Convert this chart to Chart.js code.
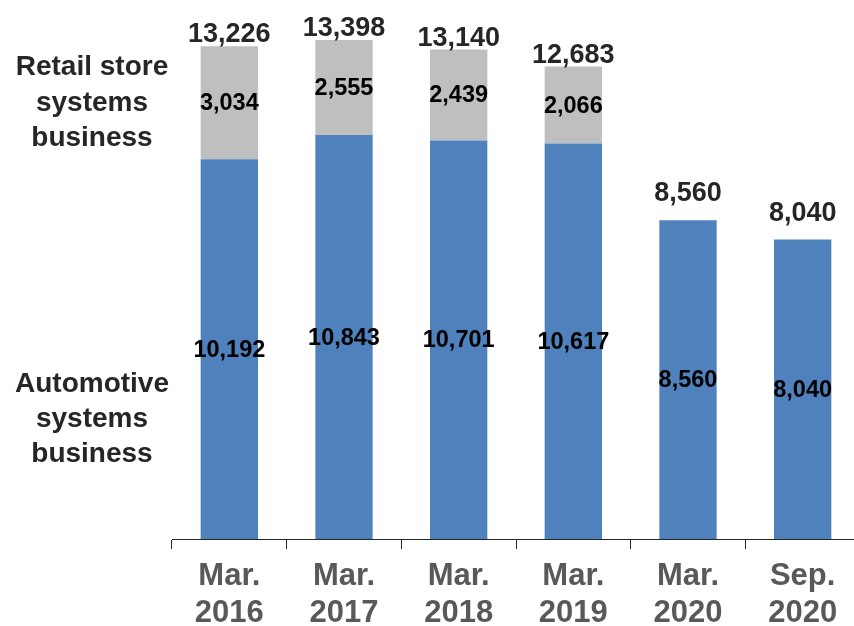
<!DOCTYPE html>
<html><head><meta charset="utf-8">
<style>
html,body{margin:0;padding:0;background:#fff;overflow:hidden;}
#wrap{width:860px;height:626px;}
</style>
<script src="https://cdn.jsdelivr.net/npm/chart.js@4/dist/chart.umd.min.js"></script>
</head><body>
<div id="wrap"><canvas id="c" width="860" height="626"></canvas></div>
<script>
const categories = [["Mar.","2016"],["Mar.","2017"],["Mar.","2018"],["Mar.","2019"],["Mar.","2020"],["Sep.","2020"]];
const automotive = [10192,10843,10701,10617,8560,8040];
const retail = [3034,2555,2439,2066,null,null];
const totals = [13226,13398,13140,12683,8560,8040];
const seriesNames = ["Automotive systems business","Retail store systems business"];
const sideLabelRetail = ["Retail store","systems","business"];
const sideLabelAutomotive = ["Automotive","systems","business"];

const FONT = '"Liberation Sans", Arial, Helvetica, sans-serif';
const fmt = v => v.toLocaleString('en-US');

const labelsPlugin = {
  id: 'labelsPlugin',
  afterDatasetsDraw(chart) {
    const ctx = chart.ctx;
    ctx.save();
    // inner segment values
    ctx.textAlign = 'center';
    ctx.textBaseline = 'middle';
    ctx.fillStyle = '#000000';
    ctx.font = 'bold 23.5px ' + FONT;
    chart.data.datasets.forEach((ds, di) => {
      const meta = chart.getDatasetMeta(di);
      meta.data.forEach((el, i) => {
        const v = ds.data[i];
        if (v === null || v === undefined) return;
        ctx.fillText(fmt(v), el.x, (el.y + el.base) / 2 + 1);
      });
    });
    // totals above bars
    ctx.textBaseline = 'alphabetic';
    ctx.fillStyle = '#262626';
    ctx.font = 'bold 27px ' + FONT;
    const m0 = chart.getDatasetMeta(0), m1 = chart.getDatasetMeta(1);
    totals.forEach((t, i) => {
      const hasRetail = retail[i] !== null && retail[i] !== undefined;
      const topEl = hasRetail ? m1.data[i] : m0.data[i];
      const off = hasRetail ? 4 : 19;
      ctx.fillText(fmt(t), topEl.x, topEl.y - off);
    });
    // side series labels
    ctx.fillStyle = '#262626';
    ctx.font = 'bold 28px ' + FONT;
    const cx = 92;
    const ca = chart.chartArea;
    sideLabelRetail.forEach((s, k) => ctx.fillText(s, cx, ca.top + 75 + k * 35.5));
    sideLabelAutomotive.forEach((s, k) => ctx.fillText(s, cx, ca.top + 392 + k * 35));
    ctx.restore();
  }
};

new Chart(document.getElementById('c'), {
  type: 'bar',
  data: {
    labels: categories,
    datasets: [
      { label: seriesNames[0], data: automotive, backgroundColor: '#4F81BD', borderWidth: 0,
        barPercentage: 0.5, categoryPercentage: 1.0 },
      { label: seriesNames[1], data: retail, backgroundColor: '#BFBFBF', borderWidth: 0,
        barPercentage: 0.5, categoryPercentage: 1.0 }
    ]
  },
  options: {
    responsive: false,
    animation: false,
    devicePixelRatio: 1,
    layout: { padding: { left: 172, right: 0, top: 0, bottom: 0 } },
    plugins: { legend: { display: false }, tooltip: { enabled: false } },
    scales: {
      x: {
        stacked: true,
        offset: true,
        grid: { display: true, drawOnChartArea: false, drawTicks: true, tickLength: 10,
                color: '#262626', lineWidth: 1, offset: true },
        border: { display: true, color: '#262626', width: 1 },
        ticks: { color: '#595959', font: { family: FONT, size: 31, weight: 'bold', lineHeight: 1.2 },
                 padding: 9, maxRotation: 0, autoSkip: false },
        afterFit(s) { s.height = 87; }
      },
      y: { stacked: true, display: false, min: 0, max: 14470 }
    }
  },
  plugins: [labelsPlugin]
});
</script>
</body></html>
